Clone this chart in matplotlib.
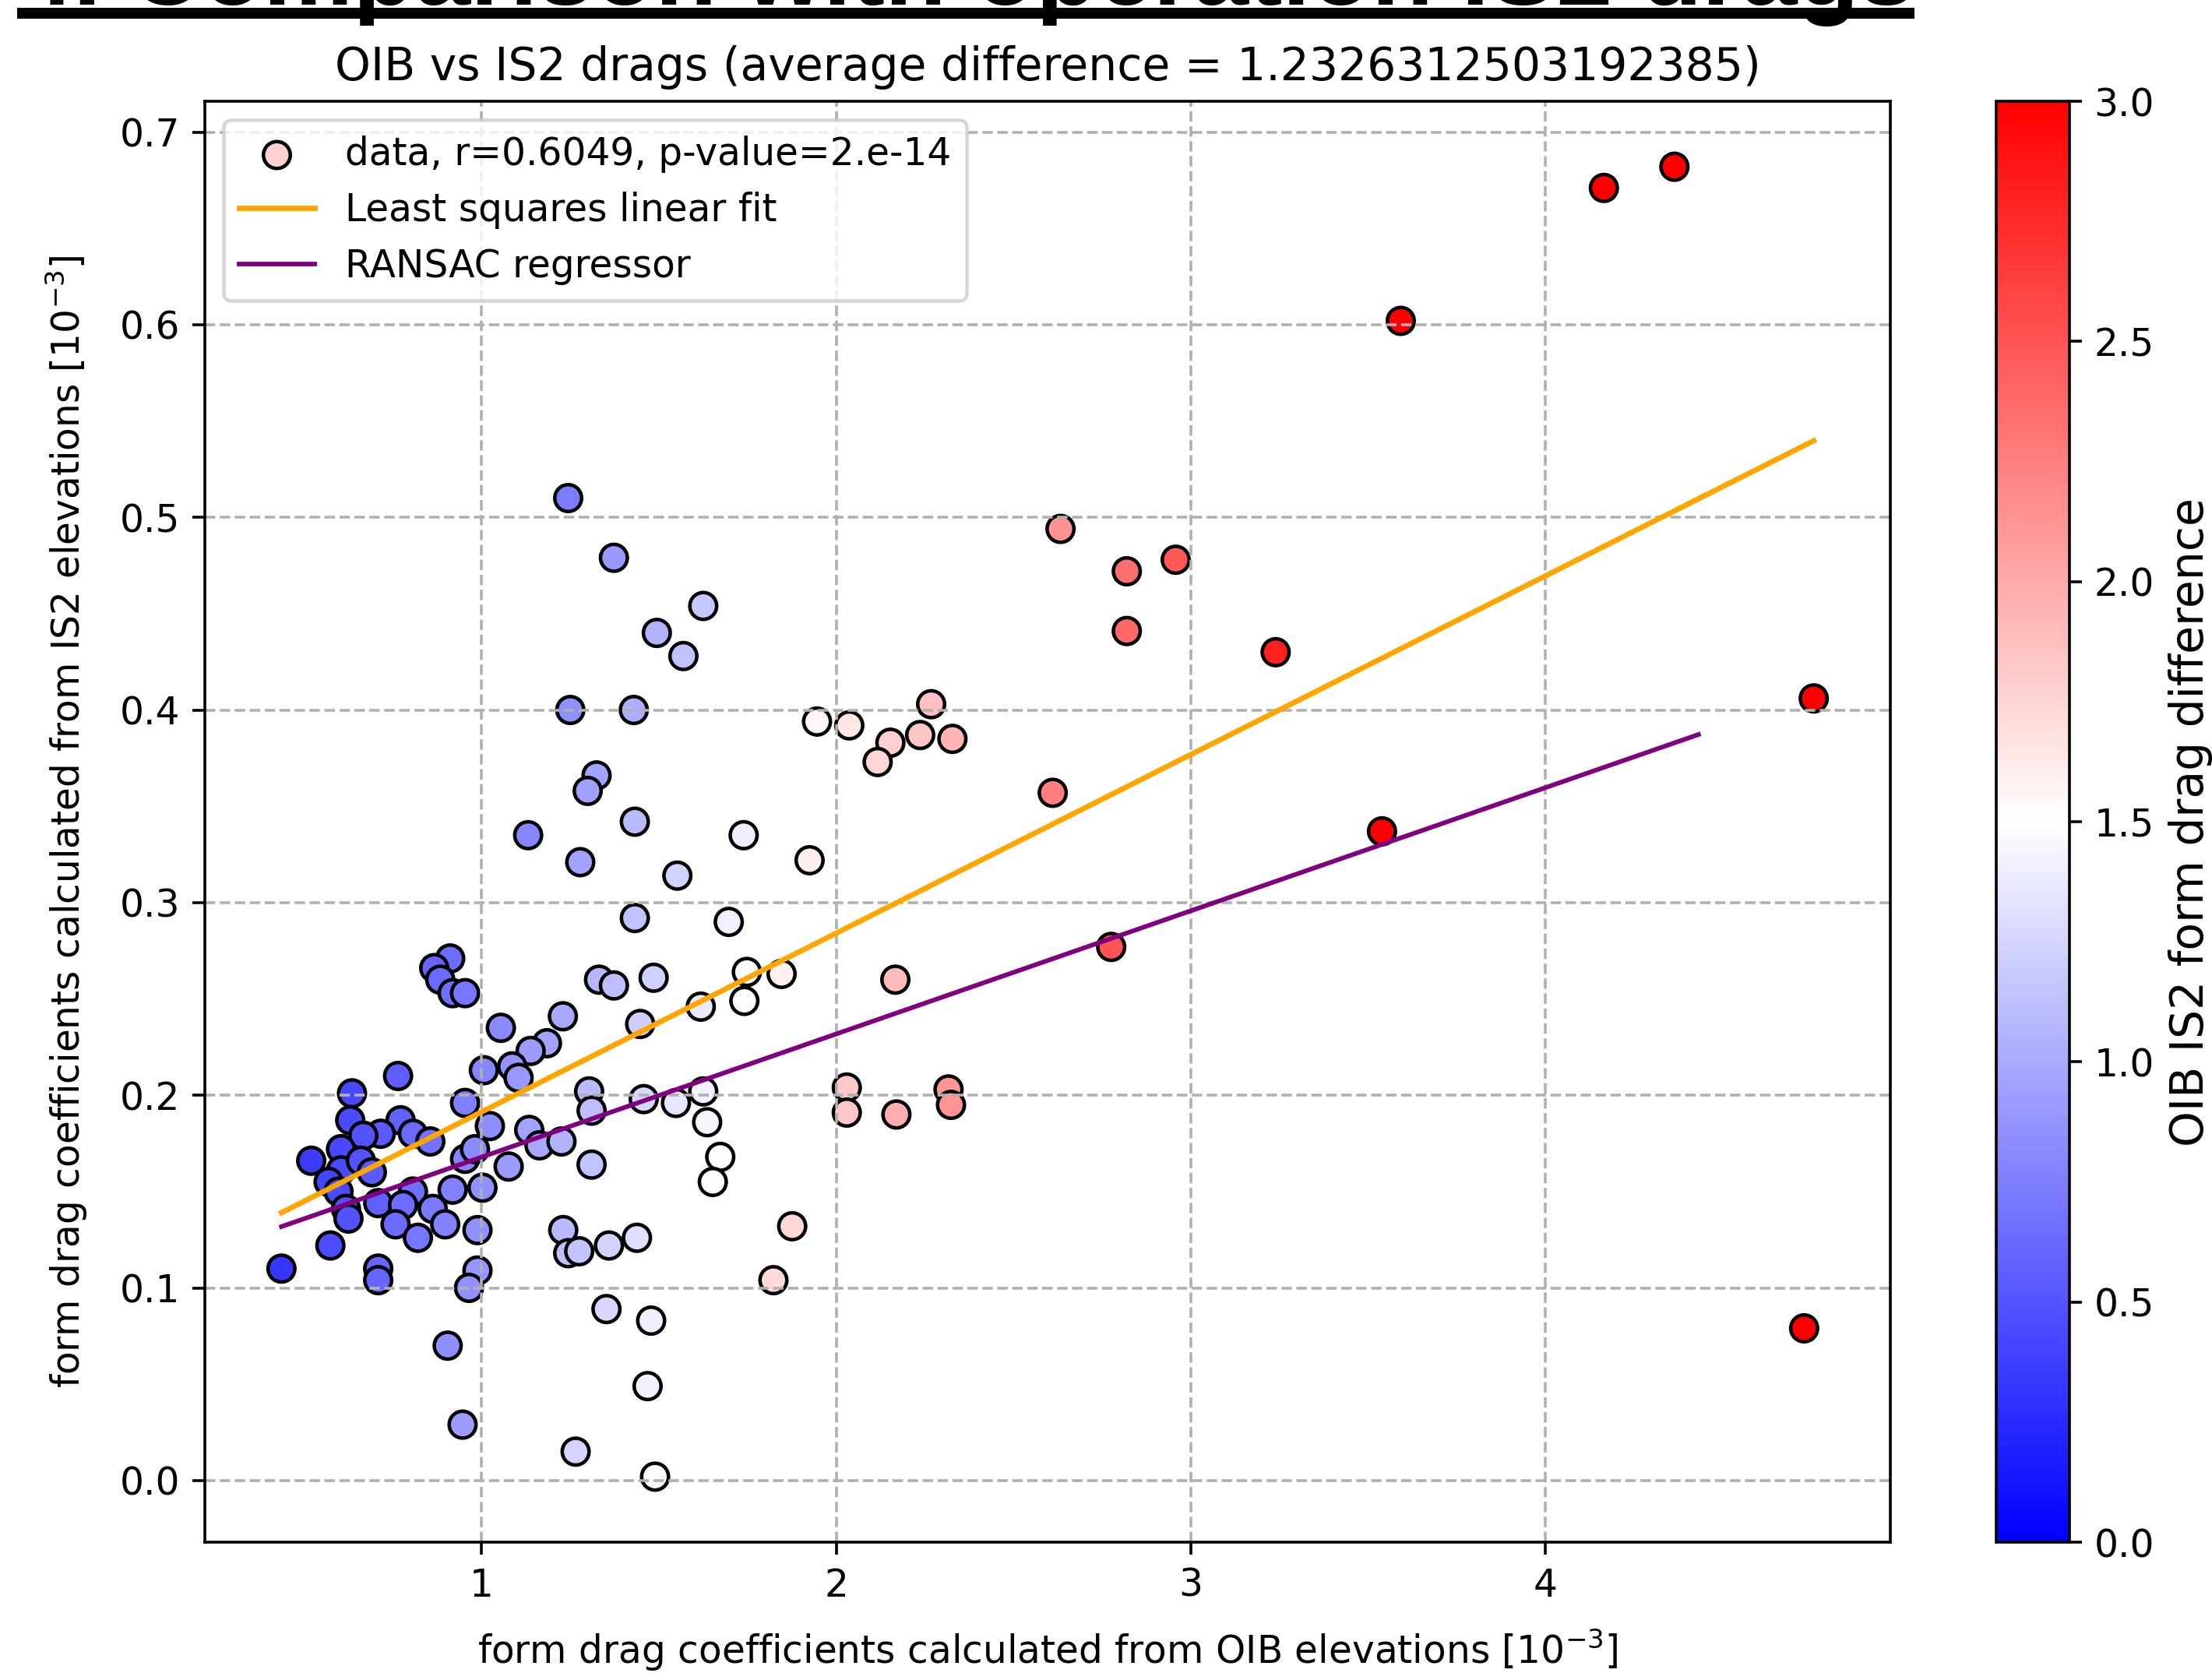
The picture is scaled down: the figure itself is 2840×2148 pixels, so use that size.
import numpy as np
import matplotlib
matplotlib.use("Agg")
import matplotlib.pyplot as plt
from matplotlib.patches import Rectangle

# ---------------- data ----------------
oib = [
    2.153, 4.365, 4.166, 3.593, 4.758, 3.240, 3.540, 2.776, 4.731,
    2.633, 2.820, 2.958, 2.820, 2.611, 2.268, 2.237, 2.117, 2.328,
    2.167, 2.030, 2.030, 2.170, 2.317, 2.324, 1.876, 1.823,
    1.946, 2.037, 1.739, 1.925, 1.697, 1.748, 1.846, 1.741, 1.618,
    1.625, 1.636, 1.673, 1.652, 1.548, 1.478, 1.468, 1.489,
    1.244, 1.373, 1.625, 1.494, 1.569, 1.250, 1.429, 1.324, 1.299,
    1.432, 1.131, 1.278, 1.552, 1.432, 1.331, 1.373, 1.485, 1.447,
    1.054, 1.229, 1.184, 1.138, 1.086, 1.104, 1.006,
    0.911, 0.866, 0.883, 0.918, 0.953,
    0.764, 0.634, 0.629, 0.771, 0.715, 0.666, 0.806, 0.855, 0.953,
    1.023, 1.303, 1.310, 1.457, 0.519, 0.603, 0.603, 0.568, 0.596,
    0.659, 0.690, 0.953, 0.981, 1.002, 0.918, 1.076, 1.134, 1.163,
    1.225, 1.310, 0.617, 0.624, 0.708, 0.806, 0.778, 0.757, 0.820,
    0.862, 0.897, 0.988, 0.573, 0.435, 0.708, 0.708, 0.988, 0.964,
    1.230, 1.244, 1.275, 1.359, 1.438, 1.352, 0.904, 0.946, 1.265,
]
is2 = [
    0.383, 0.682, 0.671, 0.602, 0.406, 0.430, 0.337, 0.277, 0.079,
    0.494, 0.472, 0.478, 0.441, 0.357, 0.403, 0.387, 0.373, 0.385,
    0.260, 0.204, 0.191, 0.190, 0.203, 0.195, 0.132, 0.104,
    0.394, 0.392, 0.335, 0.322, 0.290, 0.264, 0.263, 0.249, 0.246,
    0.202, 0.186, 0.168, 0.155, 0.196, 0.083, 0.049, 0.002,
    0.510, 0.479, 0.454, 0.440, 0.428, 0.400, 0.400, 0.366, 0.358,
    0.342, 0.335, 0.321, 0.314, 0.292, 0.260, 0.257, 0.261, 0.237,
    0.235, 0.241, 0.227, 0.223, 0.215, 0.209, 0.213,
    0.271, 0.266, 0.260, 0.253, 0.253,
    0.210, 0.201, 0.187, 0.187, 0.180, 0.179, 0.180, 0.176, 0.196,
    0.184, 0.202, 0.192, 0.198, 0.166, 0.172, 0.161, 0.155, 0.150,
    0.166, 0.160, 0.167, 0.172, 0.152, 0.151, 0.163, 0.182, 0.174,
    0.176, 0.164, 0.141, 0.136, 0.144, 0.150, 0.143, 0.133, 0.126,
    0.141, 0.133, 0.130, 0.122, 0.110, 0.110, 0.104, 0.109, 0.100,
    0.130, 0.118, 0.119, 0.122, 0.126, 0.089, 0.070, 0.029, 0.015,
]

# fitted lines
lsq_slope, lsq_intercept = 0.0927, 0.0987
ransac_slope, ransac_intercept = 0.0639, 0.1040
ransac_x_end = 4.433

title_text = "OIB vs IS2 drags (average difference = 1.2326312503192385)"
heading_text = "4. Comparison with operation IS2 drags"
legend_data = "data, r=0.6049, p-value=2.e-14"
legend_lsq = "Least squares linear fit"
legend_ransac = "RANSAC regressor"
xlabel = r"form drag coefficients calculated from OIB elevations [$10^{-3}$]"
ylabel = r"form drag coefficients calculated from IS2 elevations [$10^{-3}$]"
cbar_label = "OIB IS2 form drag difference"

# ---------------- figure ----------------
FS = 10.75
plt.rcParams["font.size"] = FS

W, H, DPI = 2840, 2148, 326
fig = plt.figure(figsize=(W / DPI, H / DPI), dpi=DPI)

ax = fig.add_axes([263 / W, 1 - 1980 / H, (2427 - 263) / W, (1980 - 130) / H])
cax = fig.add_axes([2563 / W, 1 - 1980 / H, (2657 - 2563) / W, (1980 - 130) / H])

x = np.array(oib)
y = np.array(is2)
diff = x - y

sc = ax.scatter(x, y, c=diff, cmap="bwr", vmin=0, vmax=3, s=58,
                edgecolors="k", linewidths=1.0, label=legend_data)

xl = np.array([x.min(), x.max()])
ax.plot(xl, lsq_slope * xl + lsq_intercept, color="orange", lw=1.5, label=legend_lsq)
xr = np.array([x.min(), ransac_x_end])
ax.plot(xr, ransac_slope * xr + ransac_intercept, color="purple", lw=1.3, label=legend_ransac)

ax.grid(True, linestyle="--")
ax.set_title(title_text, fontsize=FS * 1.2)
ax.set_xlabel(xlabel, labelpad=6.5)
ax.set_ylabel(ylabel, labelpad=8.5)
ax.legend(loc="upper left")

cb = fig.colorbar(sc, cax=cax)
cb.set_label(cbar_label, fontsize=FS * 1.2)

# cut-off notebook heading at the very top
t = fig.text(22 / W, 1 - 6 / H, heading_text, fontweight="bold",
             family="Liberation Sans", va="baseline", ha="left", fontsize=24)
fig.canvas.draw()
bb = t.get_window_extent()
t.set_fontsize(24 * (2436 / bb.width))
fig.add_artist(Rectangle((22 / W, 1 - 24 / H), (2458 - 22) / W, 14 / H,
                         transform=fig.transFigure, color="k", lw=0))

fig.savefig("out.png", dpi=DPI)
